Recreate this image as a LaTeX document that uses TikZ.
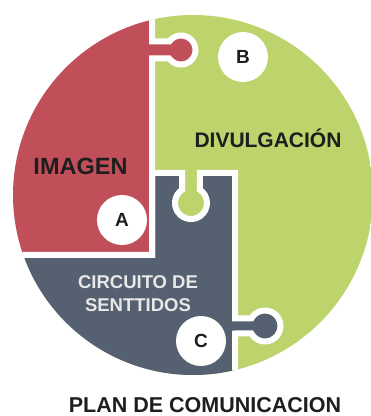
\documentclass[tikz,border=0pt]{standalone}
\usepackage{fontspec}
\setmainfont{Liberation Sans}
\usetikzlibrary{positioning}

\definecolor{imgred}{HTML}{C04F5A}
\definecolor{divgreen}{HTML}{BDD36B}
\definecolor{cirgray}{HTML}{556170}
\definecolor{txtdark}{HTML}{1E1E1E}
\definecolor{txtlight}{HTML}{E8E8E8}

\begin{document}
\begin{tikzpicture}[x=1pt, y=1pt]
\tikzstyle{piece}=[draw=white, line width=6pt]
\tikzstyle{tag}=[circle, fill=white, minimum size=50pt, inner sep=0pt, text=txtdark, font=\fontsize{19}{19}\selectfont\bfseries]
\tikzstyle{title}=[inner sep=0pt, text=txtdark, font=\fontsize{21}{21}\selectfont\bfseries]
\useasboundingbox (0,0) rectangle (371,416);
\begin{scope}
\clip (193,221) circle (180pt);
\path[piece, fill=divgreen] (152,-10) rectangle (400,430);
\path[piece, fill=cirgray] (-10,-10) -- (-10,161) -- (152,161) -- (152,243) -- (182,243) -- (182,226.2)
  arc[start angle=124.2, end angle=415.8, radius=16pt] -- (200,243) -- (235,243) -- (235,97.5) -- (251.4,97.5)
  arc[start angle=151.1, end angle=-151.1, radius=15.5pt] -- (235,82.5) -- (235,-10) -- cycle;
\path[piece, fill=imgred] (-10,161) -- (152,161) -- (152,357.5) -- (169.25,357.5)
  arc[start angle=215.9, end angle=504.1, radius=14.5pt] -- (152,374.5) -- (152,430) -- (-10,430) -- cycle;
\end{scope}
\node[tag] (b) at (243,359) {B};
\node[tag] (a) at (122,196) {A};
\node[tag] (c) at (201,75) {C};
\node[title, anchor=base, font=\fontsize{23.5}{23.5}\selectfont\bfseries] (imagen) at (80.5,241) {IMAGEN};
\node[title, anchor=base] (divulgacion) at (268,268) {DIVULGACIÓN};
\node[title, align=center, text=txtlight, font=\fontsize{18.5}{23.5}\selectfont\bfseries] (circuito) at (138,122.5) {CIRCUITO DE\\SENTTIDOS};
\node[title, anchor=base, font=\fontsize{21.5}{21.5}\selectfont\bfseries] (plan) at (205,4) {PLAN DE COMUNICACION};
\end{tikzpicture}
\end{document}
